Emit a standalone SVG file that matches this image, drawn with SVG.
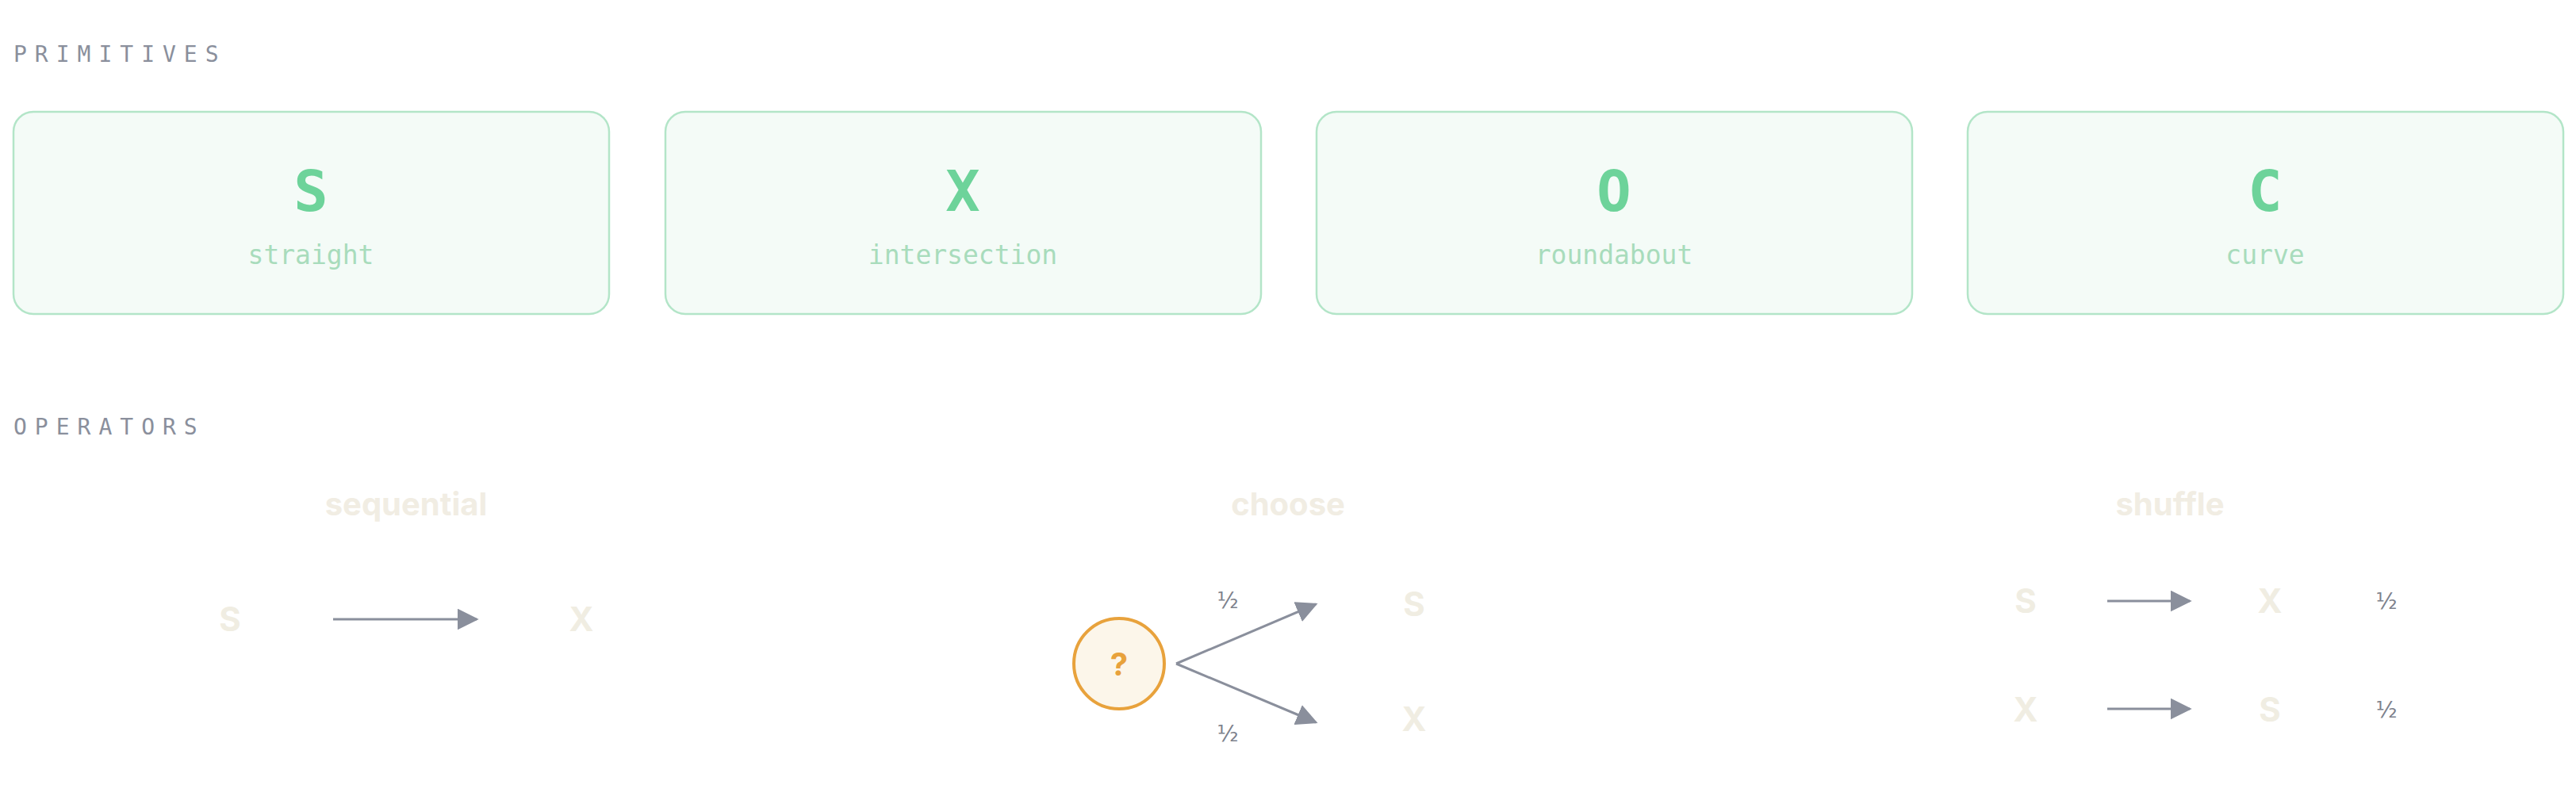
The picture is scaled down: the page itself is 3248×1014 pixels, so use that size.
<svg xmlns="http://www.w3.org/2000/svg" width="3248" height="1014" viewBox="0 0 3248 1014">
<style>
.sec{font-family:"DejaVu Sans Mono","Liberation Mono",monospace;font-size:28px;fill:#8a8f9c;letter-spacing:10px}
.box{fill:#f4fbf7;stroke:#b3e5c8;stroke-width:2.5}
.big{font-family:"DejaVu Sans Mono","Liberation Mono",monospace;font-weight:bold;font-size:72px;fill:#6dd39a;text-anchor:middle}
.lab{font-family:"DejaVu Sans Mono","Liberation Mono",monospace;font-size:33px;fill:#a8dcbc;text-anchor:middle}
.title{font-family:"Inter","Liberation Sans",sans-serif;font-weight:bold;font-size:40px;fill:#f1ede3;text-anchor:middle}
.pl{font-family:"Inter","Liberation Sans",sans-serif;font-weight:bold;font-size:42px;fill:#f0ede2;text-anchor:middle}
.frac{font-family:"DejaVu Sans","Liberation Sans",sans-serif;font-size:28px;fill:#7d818c;text-anchor:middle}
.arr{stroke:#8a8f9c;stroke-width:3;fill:none;marker-end:url(#ah)}
</style>
<defs>
<marker id="ah" viewBox="0 0 10 10" refX="9" refY="5" markerWidth="9" markerHeight="9" markerUnits="strokeWidth" orient="auto"><path d="M0,0 L10,5 L0,10 z" fill="#8a8f9c"/></marker>
</defs>
<rect width="3248" height="1014" fill="#ffffff"/>
<text class="sec" x="17" y="78">PRIMITIVES</text>
<g id="prim-S"><rect class="box" x="17" y="141" width="751" height="255" rx="25"/><text class="big" x="392" y="266">S</text><text class="lab" x="392" y="333">straight</text></g>
<g id="prim-X"><rect class="box" x="839" y="141" width="751" height="255" rx="25"/><text class="big" x="1214" y="266">X</text><text class="lab" x="1214" y="333">intersection</text></g>
<g id="prim-O"><rect class="box" x="1660" y="141" width="751" height="255" rx="25"/><text class="big" x="2035" y="266">O</text><text class="lab" x="2035" y="333">roundabout</text></g>
<g id="prim-C"><rect class="box" x="2481" y="141" width="751" height="255" rx="25"/><text class="big" x="2856" y="266">C</text><text class="lab" x="2856" y="333">curve</text></g>
<text class="sec" x="17" y="548">OPERATORS</text>
<g id="sequential"><text class="title" x="512" y="650">sequential</text><text class="pl" x="290" y="796">S</text><text class="pl" x="733" y="796">X</text></g>
<g id="choose"><text class="title" x="1624" y="650">choose</text>
<circle cx="1411" cy="837" r="57" fill="#fcf6ea" stroke="#e8a23c" stroke-width="4"/>
<text x="1411" y="852" text-anchor="middle" font-family="Inter, Liberation Sans, sans-serif" font-weight="bold" font-size="40" fill="#e8a23c">?</text>
<text class="pl" x="1783" y="777">S</text><text class="pl" x="1783" y="922">X</text>
<text class="frac" x="1548" y="767">½</text><text class="frac" x="1548" y="935">½</text></g>
<g id="shuffle"><text class="title" x="2736" y="650">shuffle</text>
<text class="pl" x="2554" y="773">S</text><text class="pl" x="2862" y="773">X</text><text class="frac" x="3009" y="768">½</text>
<text class="pl" x="2554" y="910">X</text><text class="pl" x="2862" y="910">S</text><text class="frac" x="3009" y="905">½</text></g>
<g id="connectors">
<line class="arr" x1="420" y1="781" x2="601" y2="781"/>
<line class="arr" x1="1483" y1="837" x2="1659" y2="762"/>
<line class="arr" x1="1483" y1="837" x2="1659" y2="911"/>
<line class="arr" x1="2657" y1="758" x2="2761" y2="758"/>
<line class="arr" x1="2657" y1="894" x2="2761" y2="894"/>
</g>
</svg>
